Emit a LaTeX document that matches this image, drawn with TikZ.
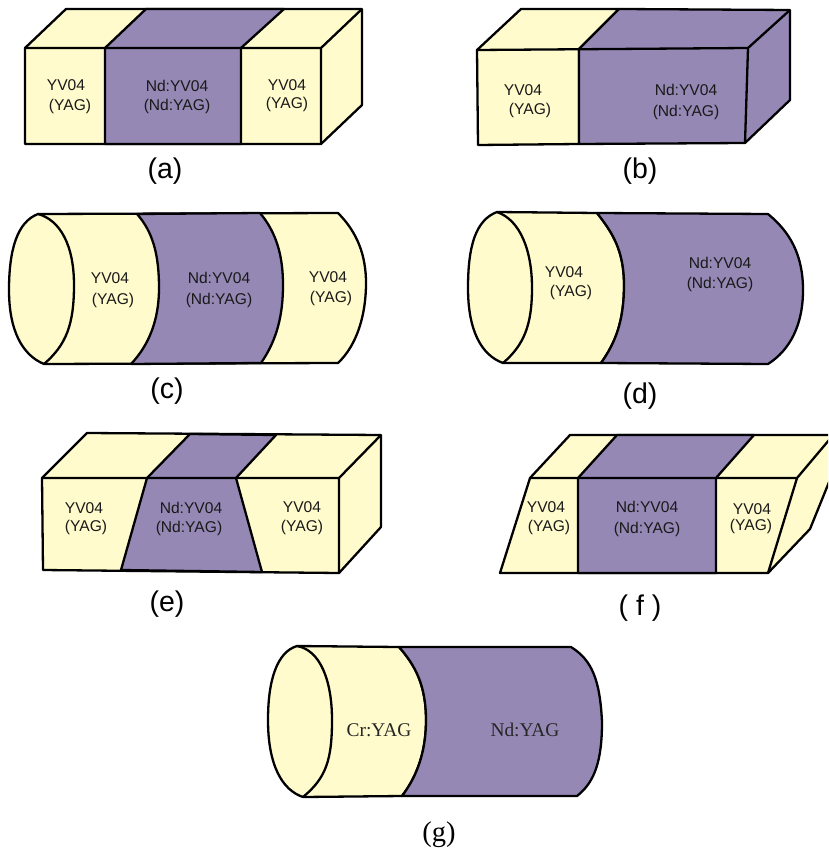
\documentclass[tikz,border=0pt]{standalone}
\usepackage{fontspec}
\setmainfont{Liberation Sans}
\newfontfamily\serifcap{Liberation Serif}
\definecolor{yel}{HTML}{FFFBCC}
\definecolor{pur}{HTML}{9688B5}
\tikzset{
  yface/.style={fill=yel,draw=black,line width=2.3pt,line join=round},
  pface/.style={fill=pur,draw=black,line width=2.3pt,line join=round},
  outl/.style={draw=black,line width=2.3pt,line join=round},
  lab/.style={inner sep=0pt,font=\fontsize{15.6}{18}\selectfont,text=black!90},
  captxt/.style={inner sep=0pt,font=\fontsize{28.5}{32}\selectfont},
  slab/.style={inner sep=0pt,font=\serifcap\fontsize{19.4}{22}\selectfont,text=black!85},
  scaptxt/.style={inner sep=0pt,font=\serifcap\fontsize{28.5}{32}\selectfont},
}
\begin{document}
\begin{tikzpicture}[x=1pt,y=-1pt]
\useasboundingbox (0,0) rectangle (828,850);
\clip (0,0) rectangle (828,850);

% (a)
\path[yface] (25,48) -- (66,9) -- (362,9) -- (362,105) -- (321,144) -- (25,144) -- cycle;
\path[pface] (105,48) -- (146,9) -- (284,9) -- (241,48) -- (241,144) -- (105,144) -- cycle;
\path[outl] (25,48) -- (321,48) -- (321,144) (321,48) -- (362,9);
\node[lab] (a1) at (66,85) {YV04};
\node[lab] (a2) at (70,106) {(YAG)};
\node[lab] (a3) at (177,86) {Nd:YV04};
\node[lab] (a4) at (177,106) {(Nd:YAG)};
\node[lab] (a5) at (287,85) {YV04};
\node[lab] (a6) at (287,104) {(YAG)};
\node[captxt] (acap) at (165,171) {(a)};

% (b)
\path[yface] (477,50) -- (521,9) -- (619,9) -- (579,49) -- (579,144) -- (478,145) -- cycle;
\path[pface] (579,49) -- (619,9) -- (790,10) -- (790,100) -- (745,143) -- (579,144) -- cycle;
\path[outl] (477,50) -- (748,48) -- (745,143) (748,48) -- (790,10);
\node[lab] (b1) at (523,90) {YV04};
\node[lab] (b2) at (530,110) {(YAG)};
\node[lab] (b3) at (686,90) {Nd:YV04};
\node[lab] (b4) at (686,112) {(Nd:YAG)};
\node[captxt] (bcap) at (640,171) {(b)};

% (c)
\path[yface] (38,214) -- (338,213) .. controls (357,232) and (366,255) .. (366,283) .. controls (366,315) and (357,345) .. (338,363) -- (44,364) .. controls (22,355) and (9,330) .. (9,290) .. controls (9,250) and (17,222) .. (38,214) -- cycle;
\path[pface] (137,214) -- (260,213) .. controls (276,232) and (283,255) .. (283,285) .. controls (283,315) and (277,340) .. (261,363) -- (131,364) .. controls (149,345) and (159,320) .. (159,288) .. controls (159,255) and (153,232) .. (137,214) -- cycle;
\path[outl] (38,214) .. controls (60,220) and (74,245) .. (74,285) .. controls (74,325) and (66,345) .. (44,364);
\node[lab] (c1) at (110,278) {YV04};
\node[lab] (c2) at (113,300) {(YAG)};
\node[lab] (c3) at (219,278) {Nd:YV04};
\node[lab] (c4) at (219,300) {(Nd:YAG)};
\node[lab] (c5) at (328,277) {YV04};
\node[lab] (c6) at (331,298) {(YAG)};
\node[captxt] (ccap) at (167,391) {(c)};

% (d)
\path[yface] (497,212) -- (597,213) .. controls (612,232) and (624,250) .. (624,285) .. controls (624,320) and (616,342) .. (601,363) -- (503,363) .. controls (481,355) and (468,330) .. (468,288) .. controls (468,245) and (476,220) .. (497,212) -- cycle;
\path[pface] (597,213) -- (768,214) .. controls (790,232) and (803,255) .. (803,290) .. controls (803,325) and (790,350) .. (768,364) -- (601,363) .. controls (616,342) and (624,320) .. (624,285) .. controls (624,250) and (612,232) .. (597,213) -- cycle;
\path[outl] (497,212) .. controls (520,220) and (532,250) .. (532,288) .. controls (532,325) and (524,345) .. (503,363);
\node[lab] (d1) at (564,272) {YV04};
\node[lab] (d2) at (571,292) {(YAG)};
\node[lab] (d3) at (720,263) {Nd:YV04};
\node[lab] (d4) at (720,284) {(Nd:YAG)};
\node[captxt] (dcap) at (640,396) {(d)};

% (e)
\path[yface] (42,478) -- (87,433) -- (381,435) -- (381,527) -- (339,573) -- (43,570) -- cycle;
\path[pface] (147,478) -- (190,434) -- (276,435) -- (236,478) -- (262,572) -- (121,570) -- cycle;
\path[outl] (42,478) -- (339,478) -- (339,573) (339,478) -- (381,435);
\node[lab] (e1) at (84,508) {YV04};
\node[lab] (e2) at (86,527) {(YAG)};
\node[lab] (e3) at (191,508) {Nd:YV04};
\node[lab] (e4) at (189,528) {(Nd:YAG)};
\node[lab] (e5) at (302,507) {YV04};
\node[lab] (e6) at (302,527) {(YAG)};
\node[captxt] (ecap) at (167,604) {(e)};

% (f)
\path[yface] (530,478) -- (570,435) -- (840,435) -- (840,455) -- (810,529) -- (768,573) -- (500,573) -- cycle;
\path[pface] (578,478) -- (617,435) -- (754,435) -- (716,478) -- (716,573) -- (578,573) -- cycle;
\path[outl] (530,478) -- (797,478) -- (768,573) (797,478) -- (840,427);
\node[lab] (f1) at (546,507) {YV04};
\node[lab] (f2) at (549,527) {(YAG)};
\node[lab] (f3) at (647,507) {Nd:YV04};
\node[lab] (f4) at (647,529) {(Nd:YAG)};
\node[lab] (f5) at (752,509) {YV04};
\node[lab] (f6) at (751,526) {(YAG)};
\node[captxt] (fcap) at (640,608) {( f )};

% (g)
\path[yface] (297,646) -- (399,647) .. controls (415,665) and (426,685) .. (426,720) .. controls (426,750) and (418,775) .. (402,796) -- (303,797) .. controls (282,790) and (268,765) .. (268,720) .. controls (268,680) and (277,652) .. (297,646) -- cycle;
\path[pface] (399,647) -- (571,647) .. controls (592,660) and (600,680) .. (602,722) .. controls (602,760) and (595,782) .. (577,796) -- (402,796) .. controls (418,775) and (426,750) .. (426,720) .. controls (426,685) and (415,665) .. (399,647) -- cycle;
\path[outl] (297,646) .. controls (320,650) and (332,680) .. (332,720) .. controls (332,760) and (326,778) .. (303,797);
\node[slab] (g1) at (379,730) {Cr:YAG};
\node[slab] (g2) at (525,730) {Nd:YAG};
\node[scaptxt] (gcap) at (439,835) {(g)};
\end{tikzpicture}
\end{document}
